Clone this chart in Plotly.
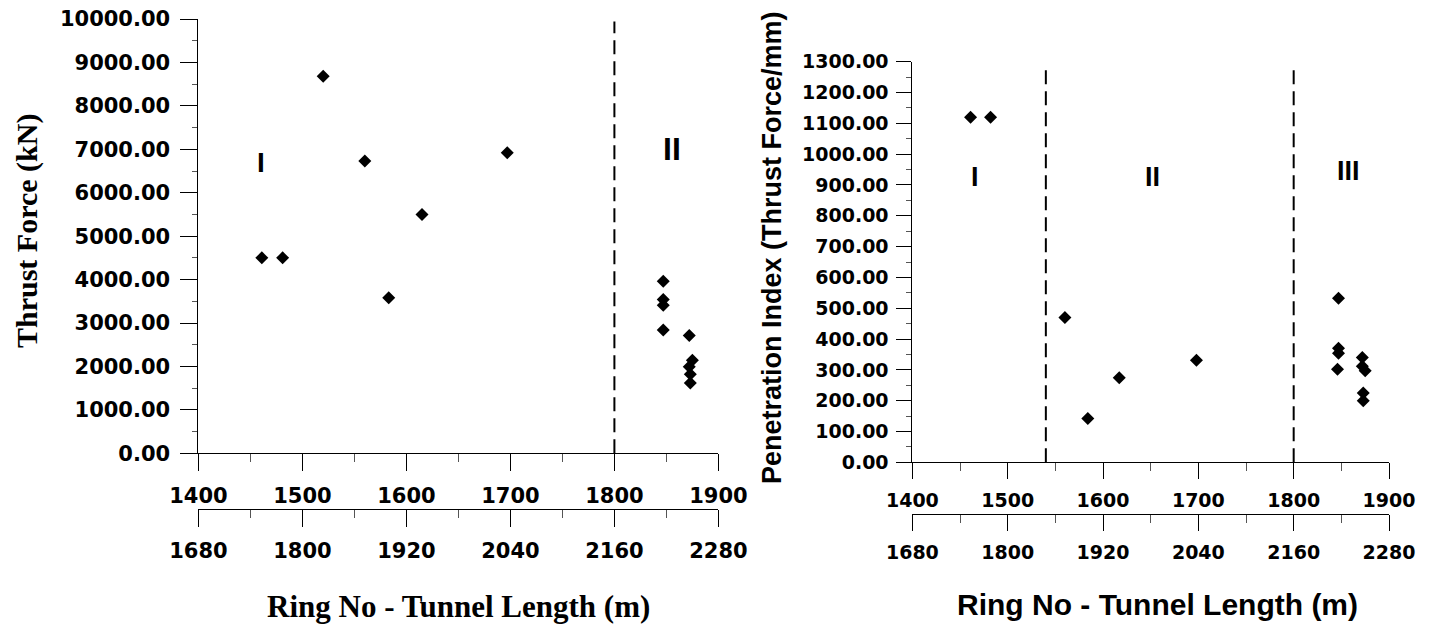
import plotly.graph_objects as go

# ---------------- data ----------------
ring_left = [1461, 1481, 1520, 1560, 1583, 1615, 1697, 1847, 1847, 1847, 1847, 1872, 1875, 1872, 1873, 1873]
thrust_kn = [4500, 4500, 8680, 6730, 3580, 5500, 6920, 3960, 3540, 3410, 2840, 2710, 2140, 1990, 1820, 1620]

ring_right = [1461, 1482, 1560, 1584, 1617, 1698, 1847, 1847, 1847, 1846, 1872, 1872, 1875, 1873, 1873]
pen_index = [1120, 1120, 470, 142, 274, 331, 532, 370, 354, 302, 340, 312, 297, 225, 200]

ring_ticks = [1400, 1500, 1600, 1700, 1800, 1900]
length_ticks = [1680, 1800, 1920, 2040, 2160, 2280]

boundaries_left = [1800]
boundaries_right = [1540, 1800]

zones_left = [("I", 1460, 6700, 28), ("II", 1855, 7000, 32)]
zones_right = [("I", 1466, 927, 27), ("II", 1652, 927, 27), ("III", 1858, 946, 27)]

# ---------------- styling ----------------
# the page body has an 8px margin, so all pixel positions (measured on the
# 1433x626 reference) are shifted by it
OFF = 8
W, H = 1425, 618
BLACK = "#000000"
tick_font_l = dict(family="DejaVu Sans", size=21, color=BLACK, weight="bold")
tick_font_r = dict(family="DejaVu Sans", size=19, color=BLACK, weight="bold")


def px_x(p):
    return (p - OFF) / W


def px_y(p):
    return 1 - (p - OFF) / H


fig = go.Figure()

marker = dict(symbol="diamond", size=10, color=BLACK, line=dict(width=0))
fig.add_trace(go.Scatter(x=ring_left, y=thrust_kn, mode="markers", marker=marker,
                         xaxis="x", yaxis="y", showlegend=False, cliponaxis=False))
fig.add_trace(go.Scatter(x=ring_right, y=pen_index, mode="markers", marker=marker,
                         xaxis="x2", yaxis="y2", showlegend=False, cliponaxis=False))
# empty traces so the secondary (tunnel length) axes are created
fig.add_trace(go.Scatter(x=[], y=[], xaxis="x3", yaxis="y", showlegend=False))
fig.add_trace(go.Scatter(x=[], y=[], xaxis="x4", yaxis="y2", showlegend=False))

dom_xl = [px_x(198.4), px_x(718.4)]
dom_yl = [px_y(453.3), px_y(19)]
dom_xr = [px_x(912.4), px_x(1389)]
dom_yr = [px_y(462.3), px_y(61.7)]


def xax(domain, rng, tickvals, font, ticklen, minor_dtick, **kw):
    d = dict(domain=domain, range=rng, tickvals=tickvals, tickformat="d",
             ticks="outside", ticklen=ticklen, tickwidth=1, tickcolor=BLACK,
             showline=True, linecolor=BLACK, linewidth=1, automargin=False,
             ticklabeloverflow="allow",
             showgrid=False, zeroline=False, tickfont=font,
             minor=dict(dtick=minor_dtick, ticks="outside", ticklen=8,
                        tickcolor="#555555", tickwidth=1, showgrid=False))
    d.update(kw)
    return d


def yax(domain, rng, dtick, font, ticklen, minor_dtick, **kw):
    d = dict(domain=domain, range=rng, dtick=dtick, tick0=0, tickformat=".2f",
             ticks="outside", ticklen=ticklen, tickwidth=1, tickcolor=BLACK,
             showline=True, linecolor=BLACK, linewidth=1, automargin=False,
             ticklabeloverflow="allow",
             showgrid=False, zeroline=False, tickfont=font,
             minor=dict(dtick=minor_dtick, ticks="outside", ticklen=5,
                        tickcolor="#555555", tickwidth=1, showgrid=False))
    d.update(kw)
    return d


fig.update_layout(
    template="none",
    width=W, height=H,
    margin=dict(l=0, r=0, t=0, b=0, autoexpand=False),
    paper_bgcolor="white", plot_bgcolor="white",
    xaxis=xax(dom_xl, [1400, 1900], ring_ticks, tick_font_l, 17, 50, anchor="y",
              ticklabelstandoff=6),
    xaxis3=xax(dom_xl, [1680, 2280], length_ticks, tick_font_l, 17, 60,
               overlaying="x", anchor="free", position=px_y(509), side="bottom",
               ticklabelstandoff=6),
    yaxis=yax(dom_yl, [0, 10000], 1000, tick_font_l, 17, 500, anchor="x",
              ticklabelstandoff=6),
    xaxis2=xax(dom_xr, [1400, 1900], ring_ticks, tick_font_r, 16, 50, anchor="y2",
               ticklabelstandoff=5),
    xaxis4=xax(dom_xr, [1680, 2280], length_ticks, tick_font_r, 16, 60,
               overlaying="x2", anchor="free", position=px_y(514.3), side="bottom",
               ticklabelstandoff=5),
    yaxis2=yax(dom_yr, [0, 1300], 100, tick_font_r, 15, 50, anchor="x2",
               ticklabelstandoff=4),
)

shapes = []
for b in boundaries_left:
    shapes.append(dict(type="line", xref="x", yref="y", x0=b, x1=b, y0=0, y1=9940,
                       line=dict(color=BLACK, width=2, dash="14px,7px")))
for b in boundaries_right:
    shapes.append(dict(type="line", xref="x2", yref="y2", x0=b, x1=b, y0=0, y1=1290,
                       line=dict(color=BLACK, width=2, dash="14px,7px")))
fig.update_layout(shapes=shapes)

ann = []
for t, x, y, s in zones_left:
    ann.append(dict(text=t, x=x, y=y, xref="x", yref="y", showarrow=False,
                    xanchor="center", yanchor="middle",
                    font=dict(family="Liberation Sans", size=s, color=BLACK, weight="bold")))
for t, x, y, s in zones_right:
    ann.append(dict(text=t, x=x, y=y, xref="x2", yref="y2", showarrow=False,
                    xanchor="center", yanchor="middle",
                    font=dict(family="Liberation Sans", size=s, color=BLACK, weight="bold")))


def title(text, x, y, font, angle=0):
    return dict(text=text, x=px_x(x), y=px_y(y), xref="paper", yref="paper",
                showarrow=False, xanchor="center", yanchor="middle",
                textangle=angle, font=font)


ann.append(title("Ring No - Tunnel Length (m)", 458, 606,
                 dict(family="Liberation Serif", size=31, color=BLACK, weight="bold")))
ann.append(title("Thrust Force (kN)", 27, 231,
                 dict(family="Liberation Serif", size=30, color=BLACK, weight="bold"), -90))
ann.append(title("Ring No - Tunnel Length (m)", 1157, 604,
                 dict(family="Liberation Sans", size=30, color=BLACK, weight="bold")))
ann.append(title("Penetration Index (Thrust Force/mm)", 772, 248,
                 dict(family="Liberation Sans", size=27, color=BLACK, weight="bold"), -90))
fig.update_layout(annotations=ann)

fig.write_html("out.html")
